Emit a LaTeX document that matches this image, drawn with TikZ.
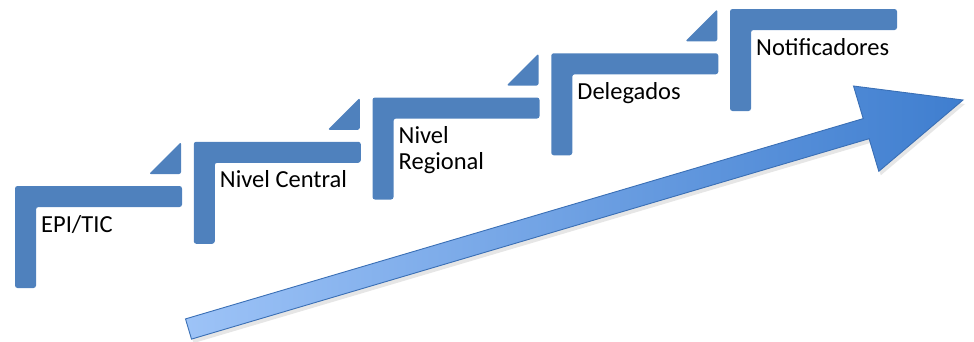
\documentclass[tikz,border=0pt]{standalone}
\usepackage{fontspec}
\setmainfont{Carlito}
\usetikzlibrary{shadows}

\definecolor{stepblue}{HTML}{4F81BD}
\definecolor{arrowlight}{HTML}{9DC3F7}
\definecolor{arrowdark}{HTML}{3F7ECF}
\definecolor{arrowedge}{HTML}{3A6FB5}

\begin{document}
\begin{tikzpicture}[
    x=1pt, y=-1pt,
    stepbar/.style={fill=stepblue, draw=none, rounded corners=2.5pt},
    steptri/.style={fill=stepblue, draw=none, rounded corners=2pt},
    steplabel/.style={anchor=base west, inner sep=0pt, align=left, font=\fontsize{24.5}{26}\selectfont},
    bigarrow/.style={draw=arrowedge, line width=0.9pt, left color=arrowlight, right color=arrowdark,
        drop shadow={opacity=0.2, shadow xshift=2pt, shadow yshift=-4pt}}
]
    \useasboundingbox (0,0) rectangle (974,341);

    % corners of the steps
    \coordinate (s1) at (15,186);
    \coordinate (s2) at (193.75,141.75);
    \coordinate (s3) at (372.5,97.5);
    \coordinate (s4) at (551.25,53.25);
    \coordinate (s5) at (730,9);

    % step shapes
    \fill[stepbar] (s1) -- ++(167,0) -- ++(0,21) -- ++(-146,0) -- ++(0,81) -- ++(-21,0) -- cycle;
    \fill[steptri] ([shift={(134,-12)}]s1) -- ++(32,0) -- ++(0,-32) -- cycle;
    \fill[stepbar] (s2) -- ++(167,0) -- ++(0,21) -- ++(-146,0) -- ++(0,81) -- ++(-21,0) -- cycle;
    \fill[steptri] ([shift={(134,-12)}]s2) -- ++(32,0) -- ++(0,-32) -- cycle;
    \fill[stepbar] (s3) -- ++(167,0) -- ++(0,21) -- ++(-146,0) -- ++(0,81) -- ++(-21,0) -- cycle;
    \fill[steptri] ([shift={(134,-12)}]s3) -- ++(32,0) -- ++(0,-32) -- cycle;
    \fill[stepbar] (s4) -- ++(167,0) -- ++(0,21) -- ++(-146,0) -- ++(0,81) -- ++(-21,0) -- cycle;
    \fill[steptri] ([shift={(134,-12)}]s4) -- ++(32,0) -- ++(0,-32) -- cycle;
    \fill[stepbar] (s5) -- ++(167,0) -- ++(0,21) -- ++(-146,0) -- ++(0,81) -- ++(-21,0) -- cycle;

    % labels
    \node[steplabel] (epi) at ([shift={(26,46)}]s1) {EPI/TIC};
    \node[steplabel] (central) at ([shift={(26,46)}]s2) {Nivel Central};
    \node[steplabel] (regional) at ([shift={(26,72)}]s3) {Nivel\\Regional};
    \node[steplabel] (delegados) at ([shift={(26,46)}]s4) {Delegados};
    \node[steplabel] (notif) at ([shift={(26,46)}]s5) {Notificadores};

    % rising arrow
    \coordinate (tail) at (188.5,329);
    \coordinate (tip) at (963,100);
    \path[bigarrow] (185.5,318.9) -- (863.2,118.6) -- (853.5,86) -- (tip)
        -- (878.8,171.3) -- (869.1,138.7) -- (191.5,339.1) -- cycle;
\end{tikzpicture}
\end{document}
